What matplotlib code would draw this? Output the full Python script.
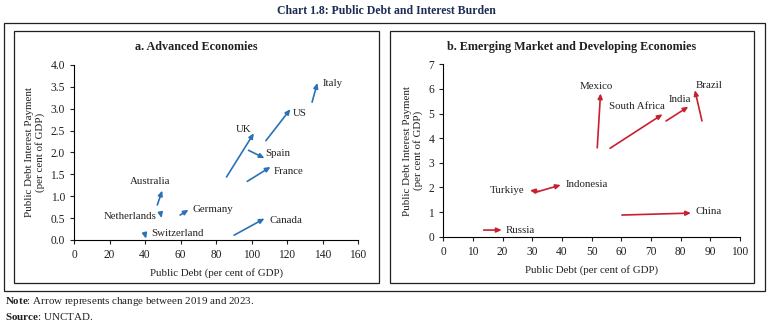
import matplotlib
matplotlib.use("Agg")
import matplotlib.pyplot as plt
from matplotlib.patches import Rectangle

plt.rcParams["font.family"] = ["Liberation Serif", "DejaVu Serif"]
plt.rcParams["font.size"] = 7.5
plt.rcParams["mathtext.fontset"] = "custom"
plt.rcParams["mathtext.rm"] = "Liberation Serif"
plt.rcParams["mathtext.bf"] = "Liberation Serif:bold"

BLUE = "#2a72b5"
RED = "#c8202f"
INK = "#231f20"

# Advanced economies: debt / interest in 2019 -> 2023
adv_names = ["Italy", "US", "UK", "Spain", "France", "Canada",
             "Australia", "Netherlands", "Germany", "Switzerland"]
adv_debt_19 = [134.1, 108.1, 85.9, 98.3, 97.6, 90.2, 46.9, 48.8, 59.8, 40.0]
adv_debt_23 = [137.1, 121.9, 101.3, 107.3, 110.7, 107.3, 49.7, 49.3, 64.5, 40.6]
adv_int_19 = [3.15, 2.27, 1.44, 2.05, 1.34, 0.11, 0.80, 0.60, 0.57, 0.12]
adv_int_23 = [3.59, 2.99, 2.44, 1.87, 1.67, 0.49, 1.13, 0.50, 0.69, 0.03]
adv_lbl_xy = [(140.3, 3.57), (123.5, 2.90), (100.0, 2.52), (107.9, 1.97),
              (112.2, 1.57), (110.0, 0.45), (43.0, 1.34), (46.5, 0.53),
              (66.8, 0.70), (43.7, 0.15)]
adv_lbl_ha = ["left", "left", "right", "left", "left", "left",
              "center", "right", "left", "left"]

# Emerging market and developing economies
eme_names = ["Mexico", "South Africa", "India", "Brazil", "Indonesia",
             "Turkiye", "China", "Russia"]
eme_debt_19 = [51.9, 56.2, 75.1, 87.2, 30.7, 32.2, 60.2, 13.6]
eme_debt_23 = [53.0, 73.9, 82.6, 84.8, 39.6, 29.2, 83.5, 19.7]
eme_int_19 = [3.61, 3.59, 4.70, 4.70, 1.79, 1.84, 0.88, 0.27]
eme_int_23 = [5.82, 4.97, 5.28, 5.95, 2.10, 1.88, 0.96, 0.27]
eme_lbl_xy = [(51.5, 6.09), (74.8, 5.28), (76.0, 5.58), (85.2, 6.14),
              (41.1, 2.10), (27.5, 1.89), (84.9, 1.01), (21.0, 0.27)]
eme_lbl_ha = ["center", "right", "left", "left", "left", "right", "left", "left"]


def panel(ax, names, x0, x1, y0, y1, lbl_xy, lbl_ha, color):
    for i, name in enumerate(names):
        ax.annotate("", xy=(x1[i], y1[i]), xytext=(x0[i], y0[i]),
                    arrowprops=dict(arrowstyle="-|>,head_length=0.4,head_width=0.18",
                                    color=color, lw=1.2, shrinkA=0, shrinkB=0))
        ax.text(lbl_xy[i][0], lbl_xy[i][1], name, ha=lbl_ha[i], va="center",
                color=INK, fontsize=7.8)
    ax.spines["top"].set_visible(False)
    ax.spines["right"].set_visible(False)
    ax.tick_params(colors=INK, labelsize=8.3, length=3, width=0.8)
    ax.set_xlabel("Public Debt (per cent of GDP)", color=INK, fontsize=7.8, labelpad=5)
    ax.set_ylabel("Public Debt Interest Payment\n(per cent of GDP)", color=INK,
                  fontsize=7.9, linespacing=1.1, labelpad=4)


fig = plt.figure(figsize=(7.72, 3.27), dpi=100)

# frames around the whole chart and each panel
boxes = [(0.0052, 0.1101, 0.9858, 0.8196),
         (0.0181, 0.1346, 0.4728, 0.7706),
         (0.5052, 0.1346, 0.4715, 0.7706)]
for x, y, w, h in boxes:
    fig.add_artist(Rectangle((x, y), w, h, transform=fig.transFigure,
                             fill=False, ec=INK, lw=0.9))

ax1 = fig.add_axes([0.0959, 0.2661, 0.3679, 0.5352])
panel(ax1, adv_names, adv_debt_19, adv_debt_23, adv_int_19, adv_int_23,
      adv_lbl_xy, adv_lbl_ha, BLUE)
ax1.set_xlim(0, 160)
ax1.set_ylim(0, 4.0)
ax1.set_xticks(range(0, 161, 20))
ax1.set_yticks([i * 0.5 for i in range(9)])
ax1.yaxis.set_major_formatter("{x:.1f}")

ax2 = fig.add_axes([0.5742, 0.2761, 0.3843, 0.5272])
panel(ax2, eme_names, eme_debt_19, eme_debt_23, eme_int_19, eme_int_23,
      eme_lbl_xy, eme_lbl_ha, RED)
ax2.set_xlim(0, 100)
ax2.set_ylim(0, 7)
ax2.set_xticks(range(0, 101, 10))
ax2.set_yticks(range(0, 8))

# panel titles centred on their frames
for (x, y, w, h), title in zip(boxes[1:], ["a. Advanced Economies",
                                          "b. Emerging Market and Developing Economies"]):
    fig.text(x + w / 2, 0.856, title, ha="center", va="center",
             fontweight="bold", fontsize=8.7, color=INK)

fig.text(0.5, 0.965, "Chart 1.8: Public Debt and Interest Burden", ha="center",
         va="center", fontweight="bold", fontsize=8.5, color="#1c2c54")
fig.text(0.006, 0.077, r"$\bf{Note}$: Arrow represents change between 2019 and 2023.",
         ha="left", va="center", fontsize=7.9, color=INK)
fig.text(0.006, 0.033, r"$\bf{Source}$: UNCTAD.", ha="left", va="center",
         fontsize=7.9, color=INK)

fig.savefig("out.png", dpi=100)
